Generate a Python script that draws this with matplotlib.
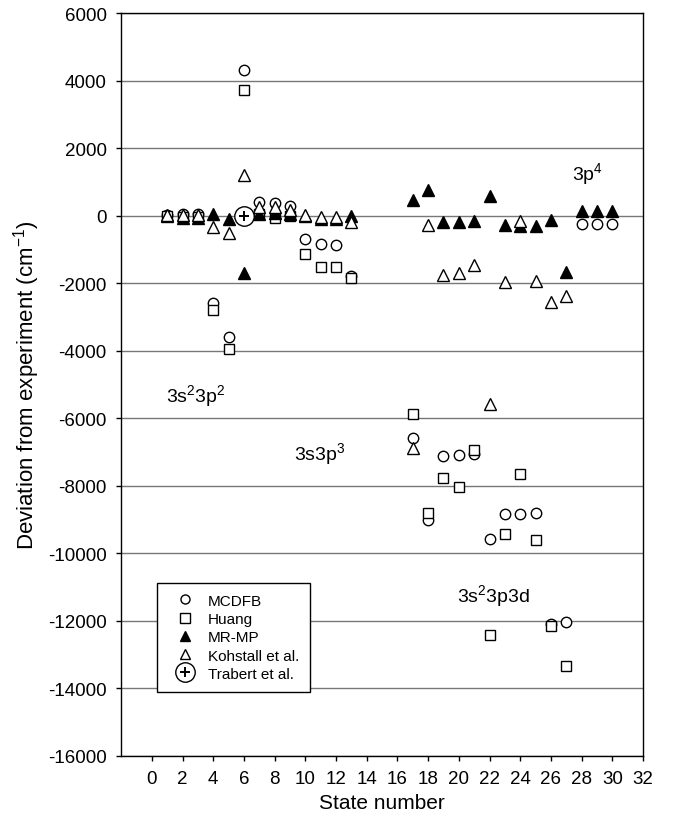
import numpy as np
import matplotlib
matplotlib.use('Agg')
import matplotlib.pyplot as plt
from matplotlib.legend_handler import HandlerTuple

plt.rcParams['font.family'] = ['Liberation Sans', 'DejaVu Sans']
plt.rcParams['mathtext.fontset'] = 'custom'
plt.rcParams['mathtext.rm'] = 'Liberation Sans'
plt.rcParams['mathtext.it'] = 'Liberation Sans:italic'
plt.rcParams['axes.unicode_minus'] = False

# deviation from experiment (cm-1) per state number
mcdfb_x = [1, 2, 3, 4, 5, 6, 7, 8, 9, 10, 11, 12, 13,
           17, 18, 19, 20, 21, 22, 23, 24, 25, 26, 27, 28, 29, 30]
mcdfb_y = [20, 40, 40, -2600, -3590, 4330, 400, 380, 300, -680, -840, -880, -1800,
           -6600, -9020, -7120, -7090, -7070, -9570, -8830, -8830, -8800, -12100, -12030,
           -230, -230, -230]

huang_x = [1, 2, 3, 4, 5, 6, 7, 8, 9, 10, 11, 12, 13,
           17, 18, 19, 20, 21, 22, 23, 24, 25, 26, 27]
huang_y = [-20, -40, -40, -2800, -3940, 3730, 60, -70, -20, -1140, -1510, -1510, -1830,
           -5880, -8820, -7780, -8030, -6940, -12410, -9420, -7640, -9610, -12170, -13330]

mrmp_x = [1, 2, 3, 4, 5, 6, 7, 8, 9, 10, 11, 12, 13,
          17, 18, 19, 20, 21, 22, 23, 24, 25, 26, 27, 28, 29, 30]
mrmp_y = [0, -60, -60, 50, -100, -1700, 50, 70, 40, -20, -110, -110, -20,
          470, 760, -200, -180, -150, 590, -270, -300, -300, -120, -1680,
          140, 140, 140]

kohstall_x = [1, 2, 3, 4, 5, 6, 7, 8, 9, 10, 11, 12, 13,
              17, 18, 19, 20, 21, 22, 23, 24, 25, 26, 27]
kohstall_y = [10, 20, 20, -330, -510, 1220, 250, 250, 180, 20, -30, -50, -180,
              -6890, -270, -1760, -1710, -1460, -5590, -1960, -170, -1920, -2570, -2390]

trabert_x = [6]
trabert_y = [0]

x_ticks = np.arange(0, 33, 2)
y_ticks = np.arange(-16000, 6001, 2000)

fig = plt.figure(figsize=(6.73, 8.29), dpi=100)
ax = fig.add_axes([0.18, 0.0872, 0.7755, 0.8956])

ax.set_xlim(-2, 32)
ax.set_ylim(-16000, 6000)
ax.set_xticks(x_ticks)
ax.set_yticks(y_ticks)
ax.yaxis.grid(True, color='#777777', linewidth=1.0)
ax.set_axisbelow(True)

mk = dict(linestyle='none', markeredgecolor='black', markeredgewidth=1.0)
h1, = ax.plot(mcdfb_x, mcdfb_y, marker='o', markersize=7.5, markerfacecolor='white', label='MCDFB', **mk)
h2, = ax.plot(huang_x, huang_y, marker='s', markersize=6.5, markerfacecolor='white', label='Huang', **mk)
h3, = ax.plot(mrmp_x, mrmp_y, marker='^', markersize=8, markerfacecolor='black', label='MR-MP', **mk)
h4, = ax.plot(kohstall_x, kohstall_y, marker='^', markersize=8, markerfacecolor='white', label='Kohstall et al.', **mk)
h5a, = ax.plot(trabert_x, trabert_y, marker='o', markersize=14, markerfacecolor='white', **mk)
h5b, = ax.plot(trabert_x, trabert_y, marker='+', markersize=7, markeredgecolor='black',
               markeredgewidth=1.4, linestyle='none')

ax.text(0.9, -5490, r'3s$^{2}$3p$^{2}$', fontsize=14, va='baseline')
ax.text(9.25, -7220, r'3s3p$^{3}$', fontsize=14, va='baseline')
ax.text(19.9, -11425, r'3s$^{2}$3p3d', fontsize=14, va='baseline')
ax.text(27.4, 1090, r'3p$^{4}$', fontsize=14, va='baseline')

leg = ax.legend([h1, h2, h3, h4, (h5a, h5b)],
                ['MCDFB', 'Huang', 'MR-MP', 'Kohstall et al.', 'Trabert et al.'],
                handler_map={tuple: HandlerTuple(ndivide=1)},
                loc='upper left', bbox_to_anchor=(0.069, 0.2326), fontsize=11,
                numpoints=1, fancybox=False, framealpha=1, edgecolor='black',
                borderpad=0.7, handlelength=2.2, handletextpad=0.4, labelspacing=0.28,
                borderaxespad=0)
leg.get_frame().set_linewidth(1.0)
for h in leg.legend_handles[:4]:
    h.set_markersize(6.5)

ax.tick_params(axis='both', labelsize=13.5, length=3.5, width=1.0, direction='out')
ax.tick_params(axis='y', pad=7)
ax.tick_params(axis='x', pad=7)
for s in ax.spines.values():
    s.set_linewidth(1.0)

ax.set_xlabel('State number', fontsize=15)
ax.set_ylabel(r'Deviation from experiment (cm$^{-1}$)', fontsize=16, labelpad=4)

fig.savefig('out.png', dpi=100)
